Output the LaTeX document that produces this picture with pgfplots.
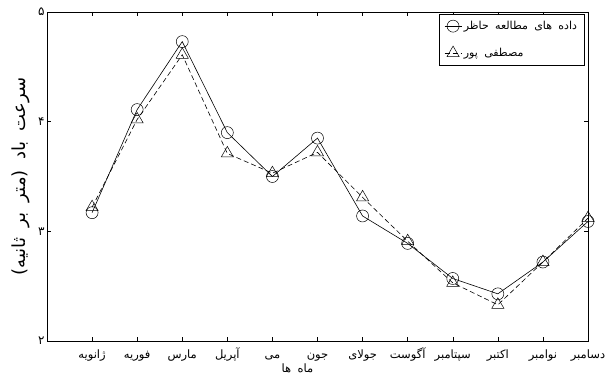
\documentclass[border=0pt]{standalone}
\usepackage{fontspec}
\usepackage{pgfplots}
\pgfplotsset{compat=1.18}
\TeXXeTstate=1
\newfontfamily\arabicfont[Script=Arabic]{DejaVu Sans}
\newfontfamily\wideArabic[Script=Arabic, WordSpace=1.8]{DejaVu Sans}
\begin{document}
\begin{tikzpicture}
\useasboundingbox (0pt,0pt) rectangle (607pt,377pt);
\begin{axis}[
  at={(47pt,36pt)}, anchor=south west,
  scale only axis, width=541pt, height=329pt,
  xmin=0, xmax=12, ymin=2, ymax=5,
  xtick={1,...,12},
  xticklabels={{\arabicfont\beginR ژانویه\endR},{\arabicfont\beginR فوریه\endR},{\arabicfont\beginR مارس\endR},{\arabicfont\beginR آپریل\endR},{\arabicfont\beginR می\endR},{\arabicfont\beginR جون\endR},{\arabicfont\beginR جولای\endR},{\arabicfont\beginR آگوست\endR},{\arabicfont\beginR سپتامبر\endR},{\arabicfont\beginR اکتبر\endR},{\arabicfont\beginR نوامبر\endR},{\arabicfont\beginR دسامبر\endR}},
  ytick={2,3,4,5},
  yticklabels={{\arabicfont\beginR ۲\endR},{\arabicfont\beginR ۳\endR},{\arabicfont\beginR ۴\endR},{\arabicfont\beginR ۵\endR}},
  tick align=inside, major tick length=4pt,
  tick style={black, line width=0.5pt},
  axis line style={black, line width=0.6pt},
  x tick label style={font=\fontsize{11.5}{13}\selectfont, anchor=base, yshift=-18pt},
  y tick label style={font=\fontsize{12}{14}\selectfont, xshift=1pt},
  xlabel={\arabicfont\beginR ماه ها\endR},
  xlabel style={font=\fontsize{11.5}{13}\selectfont, at={(axis description cs:0.463,0)}, anchor=base, yshift=-31pt},
  ylabel={\wideArabic\beginR سرعت باد (متر بر ثانیه)\endR},
  ylabel style={font=\fontsize{18}{20}\selectfont, yshift=1pt},
  legend style={at={(0.993,0.994)}, anchor=north east, draw=black, line width=0.5pt,
    font=\fontsize{11}{13}\selectfont, row sep=13pt, inner sep=5pt},
  legend cell align=left,
]
\addplot[black, line width=0.6pt, mark=o, mark size=6pt, mark options={solid, line width=0.5pt}]
coordinates {(1,3.17)(2,4.11)(3,4.73)(4,3.90)(5,3.50)(6,3.85)(7,3.14)(8,2.89)(9,2.57)(10,2.43)(11,2.72)(12,3.09)};
\addlegendentry{\arabicfont\beginR داده های مطالعه حاظر\endR}
\addplot[black, line width=0.6pt, dash pattern=on 5pt off 3pt, mark=triangle, mark size=7pt, mark options={solid, line width=0.5pt}]
coordinates {(1,3.22)(2,4.02)(3,4.61)(4,3.71)(5,3.53)(6,3.72)(7,3.31)(8,2.91)(9,2.53)(10,2.33)(11,2.72)(12,3.12)};
\addlegendentry{\arabicfont\beginR مصطفی پور\endR}
\end{axis}
\end{tikzpicture}
\end{document}
